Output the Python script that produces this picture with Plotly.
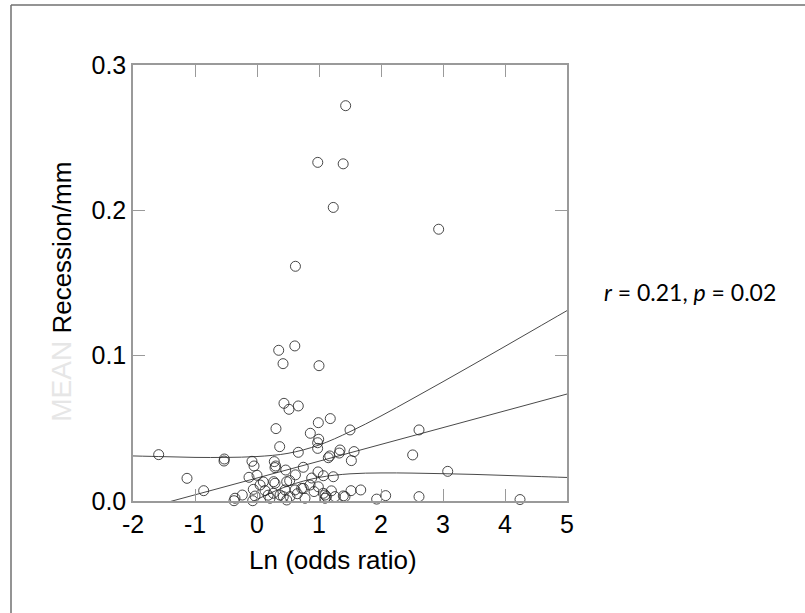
import plotly.graph_objects as go

# Data points: Ln(odds ratio) vs MEAN recession (mm)
ln_or = [1.43, 0.98, 1.39, 1.23, 2.93, 0.62, 0.35, 0.61, 0.42, 1.00,
         0.435, 0.516, 0.666, 0.989, 1.182, 0.306, 0.860, 0.995, 0.978, 0.978,
         0.366, 0.666, 1.173, 1.339, 1.327, -1.586, -0.527, -0.532, -0.081, -0.048,
         0.279, 0.301, 0.463, 0.747, 0.984, 0.882, 1.07, -1.129, -0.129, 0.0,
         0.102, 0.269, 0.527, -0.860, -0.371, 1.50, 2.613, 1.565, 1.522, 2.511,
         3.076, 1.516, 1.673, 1.392, 1.77, 1.93, 2.075, 2.613, 4.242, 1.15,
         1.231, 0.855, 0.989, 0.613, 0.747, 0.532, 0.774, 1.097, 1.097, 1.12,
         1.258, 1.419, 1.366, 0.80, 0.935, 0.989, 1.016, 1.177, -0.237, -0.06,
         -0.032, -0.069, -0.102, 0.0, 0.102, 0.237, 0.317, 0.263, 0.129, 0.29,
         0.424, 0.452, 0.721, 0.371, 0.479, 0.344, 0.075, 0.21, -0.355, 0.29,
         0.479, 0.555, 0.65, 1.07, 0.92, 1.2, 0.18, 0.05, 0.62]
recession = [0.272, 0.233, 0.232, 0.202, 0.187, 0.1615, 0.1037, 0.1067, 0.0945, 0.0931,
             0.0672, 0.0631, 0.0654, 0.0539, 0.0567, 0.0498, 0.0466, 0.0425, 0.0401, 0.0362,
             0.0374, 0.0335, 0.0310, 0.0351, 0.0330, 0.0319, 0.0289, 0.0275, 0.0273, 0.0241,
             0.0271, 0.0241, 0.0213, 0.0232, 0.0200, 0.0158, 0.0174, 0.0156, 0.0163, 0.0177,
             0.0131, 0.0133, 0.0140, 0.0071, 0.0002, 0.0489, 0.0489, 0.0340, 0.0278, 0.0317,
             0.0204, 0.0071, 0.0076, 0.0035, -0.0030, 0.0013, 0.0037, 0.0030, 0.0010, 0.0298,
             0.0167, 0.0110, 0.0098, 0.0076, 0.0087, 0.0030, 0.0019, 0.0041, 0.0019, 0.0030,
             0.0030, 0.0030, -0.0005, -0.0030, -0.0040, -0.0050, -0.0023, -0.0016, 0.0041, 0.0080,
             0.0034, 0.0002, -0.0016, -0.0016, -0.0020, -0.0028, -0.0057, 0.0053, 0.0072, 0.0122,
             0.0030, 0.0076, 0.0087, 0.0041, 0.0007, -0.0030, -0.0005, 0.0019, 0.0019, 0.0230,
             0.0133, -0.0010, 0.0050, 0.0053, 0.0065, 0.0070, 0.0040, 0.0110, 0.0180]

# Regression line and 95% confidence band
fit_x = [-2, 5]
fit_y = [-0.0073, 0.0736]
band_x = [-2, -1.5, -1, -0.5, 0, 0.5, 1, 1.5, 2, 2.5, 3, 3.5, 4, 4.5, 5]
band_upper = [0.0310, 0.0305, 0.0300, 0.0300, 0.0306, 0.0328, 0.0385, 0.0477,
              0.0585, 0.0702, 0.0821, 0.0942, 0.1064, 0.1187, 0.1310]
band_lower = [-0.0456, -0.0335, -0.0215, -0.0099, 0.0011, 0.0104, 0.0162, 0.0187,
              0.0193, 0.0192, 0.0188, 0.0183, 0.0176, 0.0169, 0.0162]

x_ticks = [-2, -1, 0, 1, 2, 3, 4, 5]
x_tick_labels = ["-2", "-1", "0", "1", "2", "3", "4", "5"]
y_ticks = [0.0, 0.1, 0.2, 0.3]
y_tick_labels = ["0.0", "0.1", "0.2", "0.3"]

FONT = "Liberation Sans, Arial, sans-serif"
AX = "#9a9a9a"
LINE = "#4a4a4a"

fig = go.Figure()
for ys in (band_upper, band_lower):
    fig.add_trace(go.Scatter(x=band_x, y=ys, mode="lines", line=dict(color=LINE, width=1, shape="spline"),
                             hoverinfo="skip", showlegend=False))
fig.add_trace(go.Scatter(x=fit_x, y=fit_y, mode="lines", line=dict(color=LINE, width=1),
                         hoverinfo="skip", showlegend=False))
fig.add_trace(go.Scatter(x=ln_or, y=recession, mode="markers", cliponaxis=False, showlegend=False,
                         marker=dict(symbol="circle-open", size=10, color="rgba(40,40,40,0.85)",
                                     line=dict(width=1))))

fig.update_xaxes(range=[-2, 5], tickvals=x_ticks, ticktext=x_tick_labels, ticks="inside", ticklen=12,
                 tickcolor=AX, showline=True, linecolor=AX, linewidth=1.5, mirror="ticks", showgrid=False,
                 zeroline=False, tickfont=dict(family=FONT, size=25, color="black"))
fig.update_yaxes(range=[0, 0.3], tickvals=y_ticks, ticktext=y_tick_labels, ticks="inside", ticklen=12,
                 tickcolor=AX, showline=True, linecolor=AX, linewidth=1.5, mirror="ticks",
                 showgrid=False, zeroline=False, tickfont=dict(family=FONT, size=25, color="black"))

# Outer frame
fig.add_shape(type="line", xref="paper", yref="paper", x0=-0.2811, x1=1.55, y0=1.1376, y1=1.1376,
              line=dict(color="#707070", width=1.5))
fig.add_shape(type="line", xref="paper", yref="paper", x0=-0.2811, x1=-0.2811, y0=1.1376, y1=-0.26,
              line=dict(color="#707070", width=1.5))

fig.add_annotation(xref="paper", yref="paper", x=0.461, y=-0.135, xanchor="center", yanchor="middle",
                   showarrow=False, text="Ln (odds ratio)", font=dict(family=FONT, size=26, color="black"))
fig.add_annotation(xref="paper", yref="paper", x=-0.1636, y=0.48, xanchor="center", yanchor="middle",
                   showarrow=False, textangle=-90,
                   text='<span style="color:#e6e6e6;font-size:28px">MEAN</span> Recession/mm',
                   font=dict(family=FONT, size=26, color="black"))
fig.add_annotation(xref="paper", yref="paper", x=1.283, y=0.479, xanchor="center", yanchor="middle",
                   showarrow=False, text="<i>r</i> = 0.21, <i>p</i> = 0.02",
                   font=dict(family="Lato, sans-serif", size=23, color="black"))

fig.update_layout(width=805, height=613, plot_bgcolor="white", paper_bgcolor="white",
                  margin=dict(l=133, r=238, t=65, b=112), showlegend=False)

fig.write_html("out.html", config={"displayModeBar": False},
               post_script="document.body.style.margin='0';")
